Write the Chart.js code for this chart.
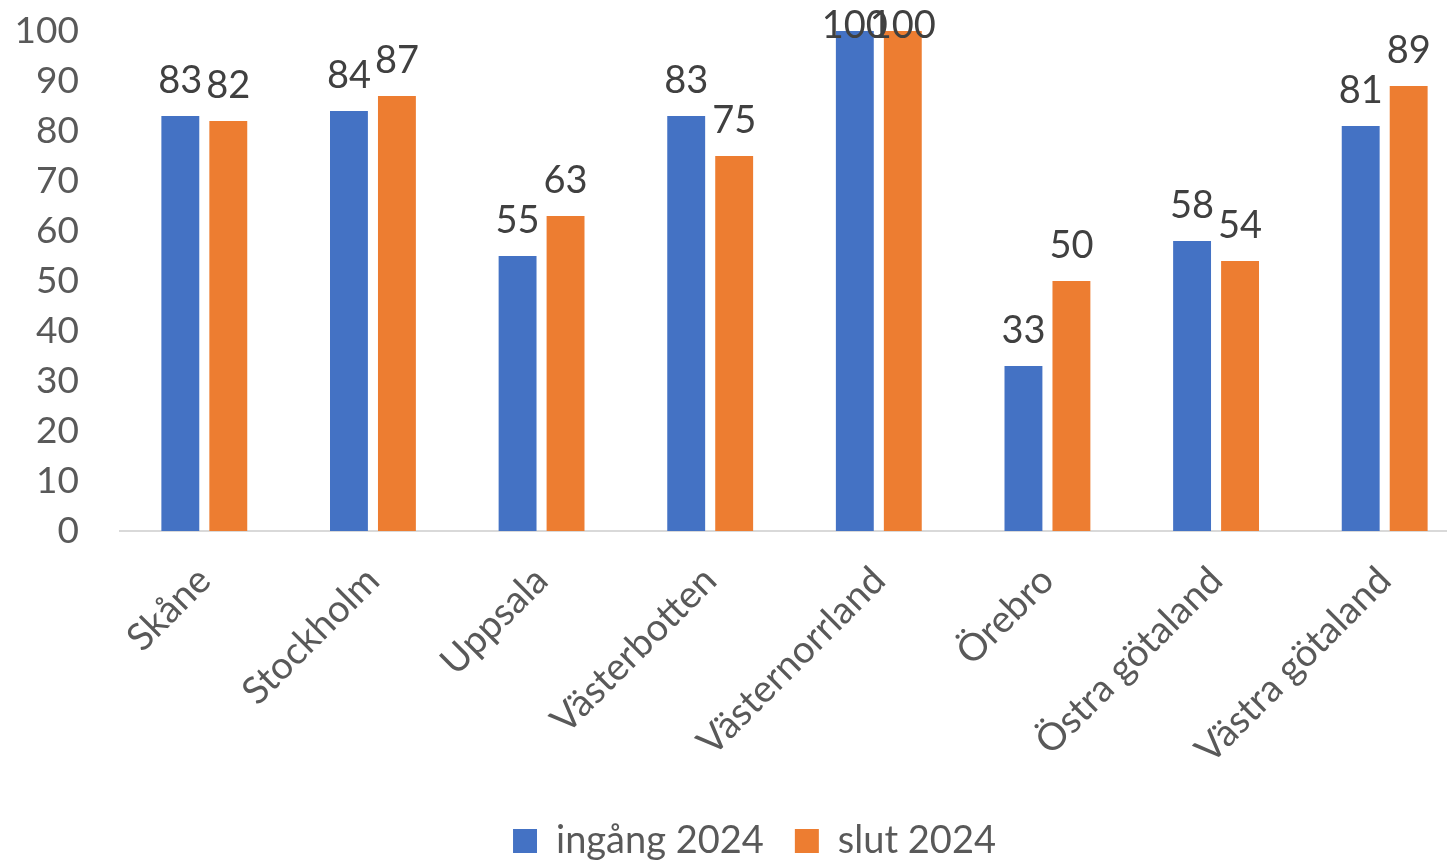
<!DOCTYPE html>
<html>
<head>
<meta charset="utf-8">
<script src="https://cdn.jsdelivr.net/npm/chart.js@4"></script>
<style>
html,body{margin:0;padding:0;background:#fff;overflow:hidden;width:1447px;height:861px;}
canvas{display:block;}
</style>
</head>
<body>
<canvas id="c" width="1509" height="861"></canvas>
<script>
const categories = ["Skåne","Stockholm","Uppsala","Västerbotten","Västernorrland","Örebro","Östra götaland","Västra götaland"];
const seriesNames = ["ingång 2024","slut 2024"];
const ingang2024 = [83,84,55,83,100,33,58,81];
const slut2024 = [82,87,63,75,100,50,54,89];
const yTicks = [0,10,20,30,40,50,60,70,80,90,100];

const FONT = "Lato, 'Open Sans', sans-serif";

const dataLabels = {
  id: 'dataLabels',
  afterDatasetsDraw(chart) {
    const ctx = chart.ctx;
    ctx.save();
    ctx.font = "38px " + FONT;
    ctx.fillStyle = "#404040";
    ctx.textAlign = "center";
    ctx.textBaseline = "alphabetic";
    chart.data.datasets.forEach((ds, di) => {
      const meta = chart.getDatasetMeta(di);
      meta.data.forEach((bar, i) => {
        const y = Math.max(bar.y - 23, 38);
        ctx.fillText(String(ds.data[i]), bar.x, y);
      });
    });
    ctx.restore();
  }
};

const legendShift = {
  id: 'legendShift',
  afterLayout(chart) {
    if (chart.legend) {
      chart.legend.top += 9;
      chart.legend.bottom += 9;
    }
  }
};

new Chart(document.getElementById('c'), {
  type: 'bar',
  data: {
    labels: categories,
    datasets: [
      {label: seriesNames[0], data: ingang2024, backgroundColor: '#4472C4', barPercentage: 0.79, categoryPercentage: 0.569},
      {label: seriesNames[1], data: slut2024, backgroundColor: '#ED7D31', barPercentage: 0.79, categoryPercentage: 0.569}
    ]
  },
  options: {
    responsive: false,
    animation: false,
    layout: {padding: {top: 31, bottom: 0}},
    plugins: {
      legend: {
        position: 'bottom',
        labels: {
          font: {size: 38, family: FONT},
          color: '#595959',
          boxWidth: 24,
          boxHeight: 24,
          padding: 31
        }
      },
      tooltip: {enabled: false}
    },
    scales: {
      x: {
        grid: {display: false},
        border: {display: true, color: '#D9D9D9', width: 2},
        ticks: {
          autoSkip: false,
          maxRotation: 45,
          minRotation: 45,
          padding: 19,
          font: {size: 38, family: FONT},
          color: '#595959'
        },
        afterFit(s) { s.height = 251; s.paddingLeft = 0; s.paddingRight = 0; }
      },
      y: {
        min: 0,
        max: 100,
        grid: {display: false},
        border: {display: false},
        afterBuildTicks(s) { s.ticks = yTicks.map(v => ({value: v})); },
        ticks: {
          autoSkip: false,
          stepSize: 10,
          padding: 33,
          font: {size: 37, family: FONT},
          color: '#595959'
        },
        afterFit(s) { s.width = 120; s.paddingTop = 0; s.paddingBottom = 0; }
      },
      yR: {
        position: 'right',
        display: true,
        grid: {display: false},
        border: {display: false},
        ticks: {display: false},
        afterFit(s) { s.width = 40; s.paddingTop = 0; s.paddingBottom = 0; }
      }
    }
  },
  plugins: [dataLabels, legendShift]
});
</script>
</body>
</html>
